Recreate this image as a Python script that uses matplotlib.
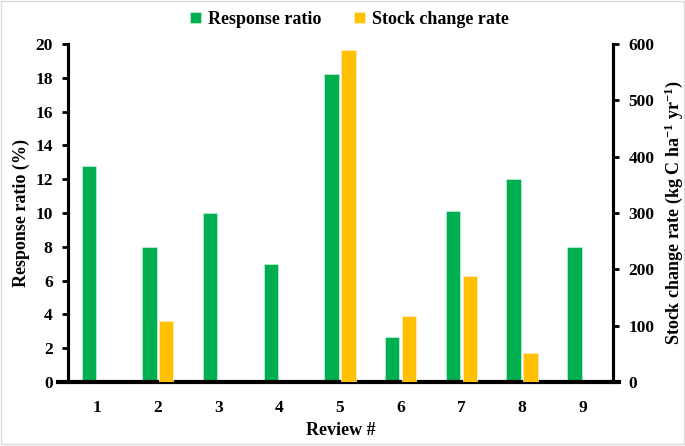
import matplotlib
matplotlib.use("Agg")
import matplotlib.pyplot as plt
from matplotlib.patches import Rectangle
import numpy as np

plt.rcParams['font.family'] = ['Liberation Serif', 'DejaVu Serif']
plt.rcParams['font.weight'] = 'bold'
plt.rcParams['mathtext.default'] = 'regular'

reviews = [1, 2, 3, 4, 5, 6, 7, 8, 9]
response_ratio = [12.8, 8.0, 10.0, 7.0, 18.2, 2.65, 10.1, 12.0, 8.0]
stock_change = [0, 108, 0, 0, 590, 118, 189, 51, 0]

green = '#00b050'
yellow = '#ffc000'

fig = plt.figure(figsize=(6.85, 4.46), dpi=100)
ax = fig.add_axes([0.0993, 0.1435, 0.7957, 0.7578])
ax2 = ax.twinx()

x = np.array(reviews)
w = 0.237
off = 0.138
b1 = ax.bar(x - off, response_ratio, w, color=green, edgecolor='#c8f0d8', linewidth=0.5,
            label='Response ratio')
b2 = ax2.bar(x + off, stock_change, w, color=yellow, edgecolor='#fff0c0', linewidth=0.5,
             label='Stock change rate')

ax.set_xlim(0.52, 9.5)
ax.set_ylim(0, 20)
ax2.set_ylim(0, 600)
ax.set_yticks(range(0, 21, 2))
ax2.set_yticks(range(0, 601, 100))
ax.set_xticks(reviews)

for a in (ax, ax2):
    a.spines['top'].set_visible(False)
    for s in a.spines.values():
        s.set_linewidth(2.2)
    a.spines['bottom'].set_visible(False)
    a.tick_params(axis='y', width=2, length=4, labelsize=12.5, pad=7)
ax.tick_params(axis='x', length=0, labelsize=12.5, pad=13)

# baseline extends slightly past both spines
ax.plot([-0.018, 1.011], [0, 0], transform=ax.transAxes, color='black',
        linewidth=3, clip_on=False, zorder=5)

ax.set_xlabel('Review #', fontsize=13, fontweight='bold', labelpad=4)
ax.set_ylabel('Response ratio (%)', fontsize=13, fontweight='bold', labelpad=4)
ax2.set_ylabel('Stock change rate (kg C ha$^{-1}$ yr$^{-1}$)',
               fontsize=13, fontweight='bold', labelpad=6)

fig.legend([b1, b2], ['Response ratio', 'Stock change rate'], loc='upper center',
           bbox_to_anchor=(0.51, 1.012), ncol=2, frameon=False, fontsize=13,
           handlelength=0.6, handleheight=0.6, handletextpad=0.4, columnspacing=1.8)

fig.patches.append(Rectangle((0.001, 0.004), 0.997, 0.994, transform=fig.transFigure,
                             fill=False, edgecolor='#d9d9d9', linewidth=1))

fig.savefig('out.png', dpi=100)
